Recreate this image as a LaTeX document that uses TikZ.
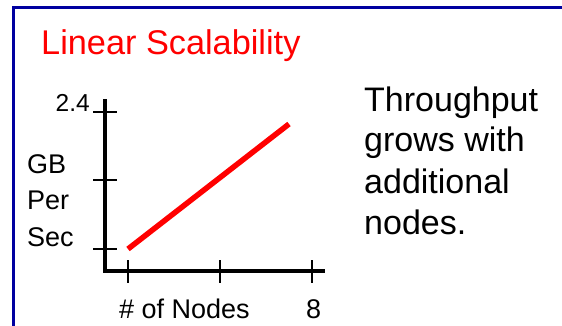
\documentclass[tikz,border=0pt]{standalone}
\usepackage{fontspec}
\setmainfont{Liberation Sans}
\definecolor{frameblue}{RGB}{0,0,160}
\definecolor{titlered}{RGB}{255,0,0}
\tikzset{
  axisline/.style={line width=4.5pt, line cap=rect},
  tickline/.style={line width=1.4pt},
  trendline/.style={line width=5.5pt, titlered},
  txt/.style={inner sep=0pt, anchor=base west, text=black},
  axislabel/.style={txt, font=\fontsize{27}{30}\selectfont},
  sidetext/.style={txt, font=\fontsize{34}{40}\selectfont},
}
\begin{document}
\begin{tikzpicture}[x=1pt, y=-1pt]
  \useasboundingbox (0,0) rectangle (562,326);
  % slide frame
  \draw[frameblue, line width=3pt] (13.5,340) -- (13.5,8) -- (580,8);
  % title
  \node[txt, text=titlered, font=\fontsize{34.3}{40}\selectfont] (title) at (41,55) {Linear Scalability};
  % axes
  \coordinate (origin) at (105,271);
  \coordinate (ytop) at (105,101);
  \coordinate (xend) at (323,271);
  \draw[axisline] (ytop) -- (origin) -- (xend);
  % y ticks
  \foreach \yy in {112,180,249} \draw[tickline] (93,\yy) -- (117,\yy);
  % x ticks
  \foreach \xx in {128,220,312} \draw[tickline] (\xx,260) -- (\xx,283);
  % trend
  \coordinate (p0) at (128,249);
  \coordinate (p1) at (289,124);
  \draw[trendline] (p0) -- (p1);
  % axis labels
  \node[inner sep=0pt, anchor=base east, font=\fontsize{24.5}{28}\selectfont] (ymax) at (90,112) {2.4};
  \node[axislabel] (gb) at (27,173) {GB};
  \node[axislabel] (per) at (27,209) {Per};
  \node[axislabel] (sec) at (27,246) {Sec};
  \node[axislabel] (xlab) at (119,318) {\# of Nodes};
  \node[axislabel] (xmax) at (306,318) {8};
  % side text
  \node[sidetext] (t1) at (364,112) {Throughput};
  \node[sidetext] (t2) at (364,152) {grows with};
  \node[sidetext] (t3) at (364,193) {additional};
  \node[sidetext] (t4) at (364,234) {nodes.};
\end{tikzpicture}
\end{document}
